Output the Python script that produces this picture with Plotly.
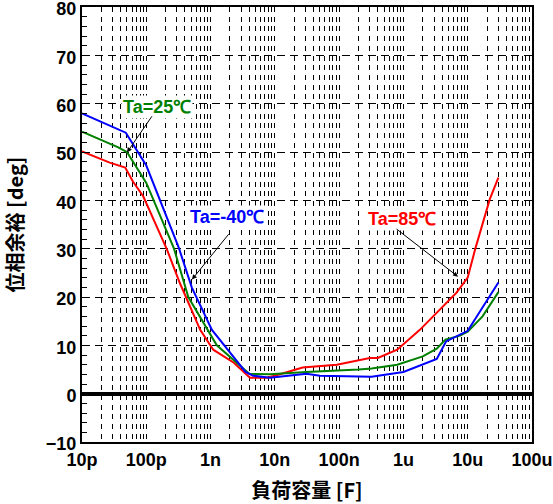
import plotly.graph_objects as go
import numpy as np

# Data (capacitance in F, phase margin in deg)
c_m40 = [10e-12, 48e-12, 100e-12, 320e-12, 510e-12, 1.05e-9, 3.5e-9, 4.6e-9, 8.4e-9, 31e-9, 50e-9, 320e-9, 1e-6, 3.3e-6, 4.6e-6, 10e-6, 30e-6]
pm_m40 = [58, 54, 47.2, 30.2, 22, 13.2, 4.5, 3.7, 3.3, 4.1, 3.7, 3.5, 4.5, 7.2, 10.8, 13, 23]

c_25 = [10e-12, 36e-12, 50e-12, 100e-12, 270e-12, 450e-12, 1.25e-9, 4e-9, 8.4e-9, 31e-9, 200e-9, 320e-9, 800e-9, 2e-6, 3.3e-6, 4.5e-6, 7.6e-6, 10e-6, 17e-6, 30e-6]
pm_25 = [54.2, 51, 50, 43.6, 30, 20, 10, 4.1, 4, 4.5, 5, 5.2, 6, 7.7, 9.3, 11.2, 12, 12.8, 16, 21]

c_85 = [10e-12, 27e-12, 47e-12, 62e-12, 90e-12, 210e-12, 330e-12, 430e-12, 690e-12, 1.1e-9, 2.3e-9, 4.1e-9, 7.5e-9, 12e-9, 27e-9, 92e-9, 300e-9, 400e-9, 800e-9, 1.8e-6, 3.7e-6, 6.7e-6, 10e-6, 13e-6, 22e-6, 30e-6]
pm_85 = [50.1, 47.8, 46.8, 43.9, 40.8, 29.8, 23, 19.5, 13.2, 9.1, 6.4, 3.3, 3.3, 4.0, 5.4, 6, 7.4, 7.4, 9.1, 13.2, 17.4, 20.9, 24, 29.8, 40.2, 44.7]

x_tickvals = [1e-11, 1e-10, 1e-9, 1e-8, 1e-7, 1e-6, 1e-5, 1e-4]
x_ticktext = ["10p", "100p", "1n", "10n", "100n", "1u", "10u", "100u"]
y_tickvals = [-10, 0, 10, 20, 30, 40, 50, 60, 70, 80]
y_ticktext = ["−10", "0", "10", "20", "30", "40", "50", "60", "70", "80"]

minor_x = [m * d for d in x_tickvals[:-1] for m in range(2, 10)]

fig = go.Figure()
fig.add_trace(go.Scatter(x=c_85, y=pm_85, mode="lines", line=dict(color="#ff0000", width=2), name="Ta=85℃"))
fig.add_trace(go.Scatter(x=c_25, y=pm_25, mode="lines", line=dict(color="#008000", width=2), name="Ta=25℃"))
fig.add_trace(go.Scatter(x=c_m40, y=pm_m40, mode="lines", line=dict(color="#0000ff", width=2), name="Ta=-40℃"))

tickfont = dict(family="Liberation Sans, Arial", size=18, color="black")

fig.update_xaxes(
    type="log", range=[-11, -4], automargin=False,
    tickvals=x_tickvals, ticktext=["<b>%s</b>" % t for t in x_ticktext], tickfont=tickfont,
    ticklabeloverflow="allow",
    ticks="", showgrid=True, gridcolor="black", gridwidth=1, griddash="5px,4.7px",
    minor=dict(tickvals=minor_x, showgrid=True, gridcolor="black", gridwidth=1, griddash="5px,4.7px", ticks=""),
    showline=True, linecolor="black", linewidth=2, mirror=True,
    title=dict(text="<b>負荷容量 [F]</b>", font=dict(family="Noto Sans CJK JP", size=20, color="black"), standoff=18),
)
fig.update_yaxes(
    range=[-10, 80], automargin=False,
    tickvals=y_tickvals, ticktext=["<b>%s</b>" % t for t in y_ticktext], tickfont=tickfont,
    ticklabeloverflow="allow", ticklabelshift=2,
    ticks="inside", ticklen=6, tickcolor="black",
    showgrid=True, gridcolor="black", gridwidth=1, griddash="8px,5px",
    minor=dict(dtick=2, ticks="inside", ticklen=5, tickcolor="black", showgrid=False),
    zeroline=True, zerolinecolor="black", zerolinewidth=4,
    showline=True, linecolor="black", linewidth=2, mirror=True,
    title=dict(text="<b>位相余裕 [deg]</b>", font=dict(family="Noto Sans CJK JP", size=20, color="black"), standoff=22),
)

labels = [
    ("<b>Ta=25℃</b>", -9.83, 59.4, "#008000", -9.896, 57.7, -10.30, 49.9),
    ("<b>Ta=-40℃</b>", -8.745, 36.6, "#0000ff", -8.70, 33.3, -9.29, 23.6),
    ("<b>Ta=85℃</b>", -6.02, 36.2, "#ff0000", -6.13, 34.3, -5.15, 24.2),
]
for txt, tx, ty, col, ax0, ay0, hx, hy in labels:
    fig.add_annotation(x=tx, y=ty, xref="x", yref="y", text=txt, showarrow=False,
                       font=dict(family="Liberation Sans, Arial", size=18, color=col), bgcolor="white")
    fig.add_annotation(x=hx, y=hy, ax=ax0, ay=ay0, xref="x", yref="y", axref="x", ayref="y",
                       text="", showarrow=True, arrowhead=2, arrowsize=1, arrowwidth=1, arrowcolor="black")

fig.update_layout(
    width=553, height=504,
    margin=dict(l=82, r=21, t=7, b=62),
    paper_bgcolor="white", plot_bgcolor="white",
    showlegend=False,
)

fig.write_html("out.html", config={"displayModeBar": False},
               post_script="document.body.style.margin='0';")
